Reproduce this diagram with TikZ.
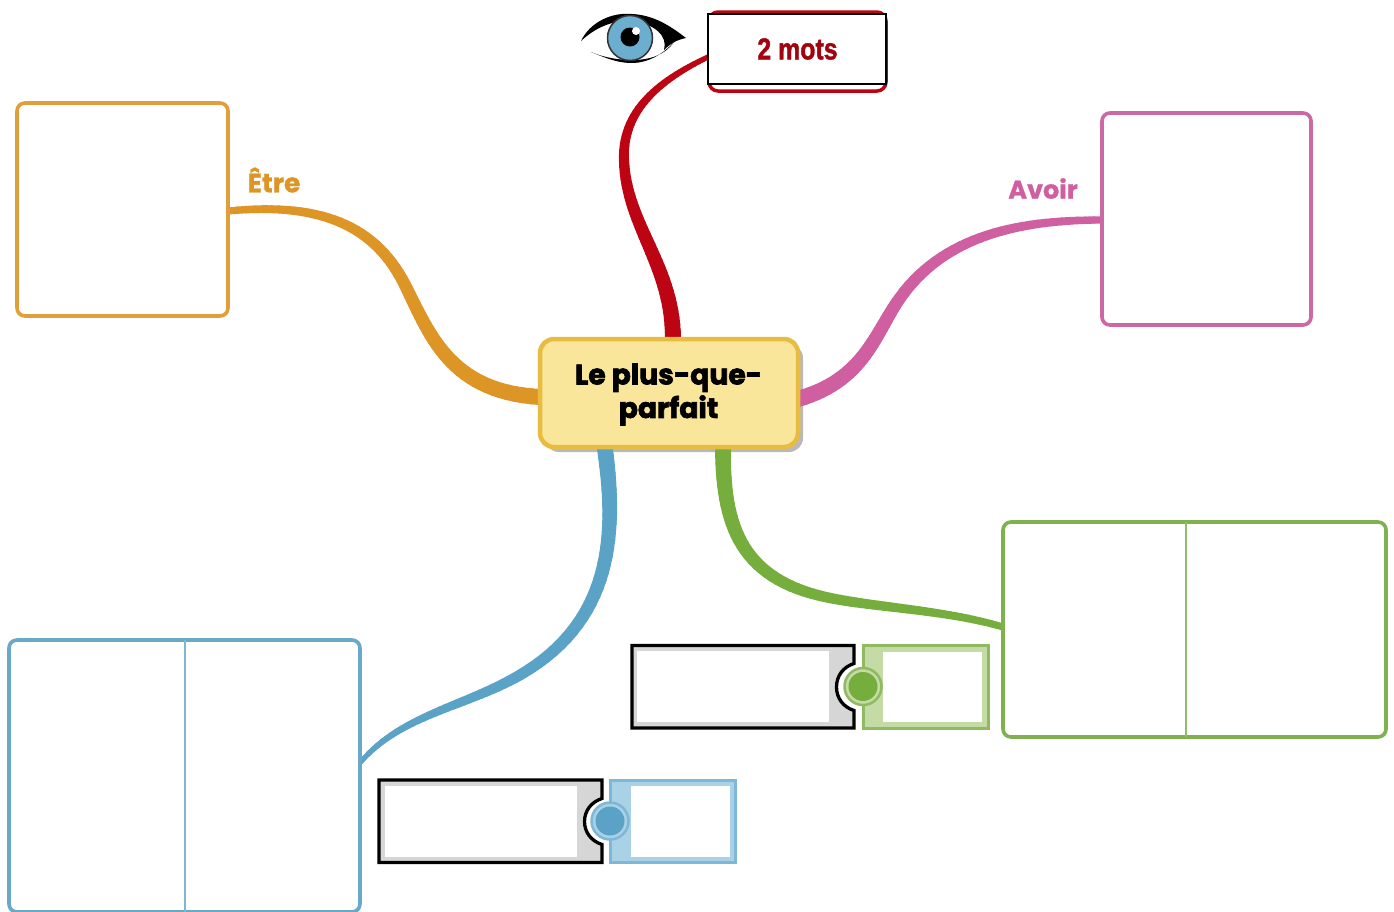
\documentclass[tikz,border=0pt]{standalone}
\usepackage{fontspec}
\usetikzlibrary{calc}
\newfontfamily\popfont[FakeBold=2.4]{Poppins Bold}
\newfontfamily\popbold[FakeBold=1.0]{Poppins Bold}
\newfontfamily\narrowfont[FakeBold=1.6]{Liberation Sans Bold}
\definecolor{orangeB}{HTML}{DD9526}
\definecolor{orangeE}{HTML}{E09F3A}
\definecolor{pinkB}{HTML}{CF5FA0}
\definecolor{pinkE}{HTML}{CC68A4}
\definecolor{redB}{HTML}{BC0412}
\definecolor{blueB}{HTML}{5AA3C6}
\definecolor{blueL}{HTML}{69A9C8}
\definecolor{greenB}{HTML}{75AE3D}
\definecolor{greenL}{HTML}{7FB24E}
\definecolor{yellowF}{HTML}{FAE69B}
\definecolor{yellowB}{HTML}{E8BC40}
\definecolor{greenP}{HTML}{C5DBA6}
\definecolor{greenE}{HTML}{90BA62}
\definecolor{blueP}{HTML}{AAD2E6}
\definecolor{blueE}{HTML}{7FB7D6}
\definecolor{eyeB}{HTML}{6BAED0}
\pgfdeclarelayer{bottom}
\pgfdeclarelayer{ribbon}
\pgfsetlayers{bottom,ribbon,main}
\tikzset{
  x=1pt,y=-1pt,
  mapbox/.style={draw=#1,line width=3.6pt,rounded corners=8pt,fill=white,outer sep=0pt,inner sep=0pt,anchor=north west},
  lbl/.style={text=#1,inner sep=0pt},
  inner/.style={fill=white,draw=none,inner sep=0pt,outer sep=0pt,anchor=north west},
  pieceL/.style={draw=black,line width=3.3pt,fill=gray!32,line join=miter},
  pieceR/.style={line width=3pt,line join=miter}
}
% tapered connector: colour, start width, end width, four Bezier points
\newcommand{\ribbonpart}[7]{%
  \coordinate (r0) at #4; \coordinate (r1) at #5; \coordinate (r2) at #6; \coordinate (r3) at #7;
  \foreach \i in {1,...,30}{%
    \pgfmathsetmacro{\ta}{(\i-1)/30}%
    \pgfmathsetmacro{\tb}{\i/30}%
    \pgfmathsetmacro{\wd}{#2+(#3-#2)*\tb}%
    \pgfmathsetmacro{\aa}{(1-\ta)^3}\pgfmathsetmacro{\ab}{3*\ta*(1-\ta)^2}\pgfmathsetmacro{\ac}{3*\ta*\ta*(1-\ta)}\pgfmathsetmacro{\ad}{\ta^3}%
    \pgfmathsetmacro{\ba}{(1-\tb)^3}\pgfmathsetmacro{\bb}{3*\tb*(1-\tb)^2}\pgfmathsetmacro{\bc}{3*\tb*\tb*(1-\tb)}\pgfmathsetmacro{\bd}{\tb^3}%
    \draw[#1,line width=\wd pt,line cap=round]
      ($\aa*(r0)+\ab*(r1)+\ac*(r2)+\ad*(r3)$) -- ($\ba*(r0)+\bb*(r1)+\bc*(r2)+\bd*(r3)$);
  }%
}
\begin{document}
\begin{tikzpicture}
\useasboundingbox (0,0) rectangle (1394,911);
\begin{pgfonlayer}{bottom}
\fill[white] (0,0) rectangle (1394,911);
\fill[gray!55,rounded corners=14pt] (545,344) rectangle (803,452);
\end{pgfonlayer}

% boxes
\node[mapbox=orangeE,minimum width=211pt,minimum height=213pt] (etre) at (17,103) {};
\node[mapbox=pinkE,minimum width=209pt,minimum height=212pt] (avoir) at (1102,113) {};
\node[mapbox=greenL,minimum width=383pt,minimum height=215pt] (greenbox) at (1003,522) {};
\node[mapbox=blueL,minimum width=351pt,minimum height=272pt] (bluebox) at (9,640) {};
\draw[greenL!85!white,line width=1.5pt] (greenbox.north) ++(-8.5,0) coordinate (gt) -- (gt |- greenbox.south);
\draw[blueL!85!white,line width=1.5pt] (bluebox.north) ++(0.5,0) coordinate (bt) -- (bt |- bluebox.south);

% title box
\node[draw=redB,line width=3.5pt,rounded corners=9pt,minimum width=177pt,minimum height=79pt,outer sep=0pt,anchor=north west] (redback) at (709,12) {};
\node[draw=black,line width=2pt,fill=white,minimum width=178pt,minimum height=70pt,outer sep=0pt,inner sep=0pt,anchor=north west] (mots) at (708,14)
  {\hspace{1pt}\scalebox{0.83}[1]{\narrowfont\fontsize{30}{30}\selectfont\textcolor{redB!85!black}{2 mots}}};

% centre
\node[draw=yellowB,fill=yellowF,line width=4.5pt,rounded corners=14pt,minimum width=258pt,minimum height=108pt,outer sep=0pt,inner sep=0pt,align=center,anchor=north west] (centre) at (540,339) {};
\node[inner sep=0pt,align=center,font=\popfont\fontsize{28.2}{33.5}\selectfont] (centretext) at (668.5,394.5) {Le plus-que-\\parfait};

% connectors
\begin{pgfonlayer}{ribbon}
\ribbonpart{orangeB}{7}{12}{(etre.east |- 0,211)}{(320,202)}{(375,225)}{(405,285)}
\ribbonpart{orangeB}{12}{16}{(405,285)}{(430,335)}{(450,392)}{(centre.west |- 0,397)}
\ribbonpart{pinkB}{7}{12}{(avoir.west |- 0,220)}{(1020,220)}{(945,235)}{(900,298)}
\ribbonpart{pinkB}{12}{16}{(900,298)}{(875,333)}{(865,380)}{(centre.east |- 0,399)}
\ribbonpart{redB}{5}{10}{(mots.west |- 0,57)}{(660,80)}{(622,110)}{(624,160)}
\ribbonpart{redB}{10}{16}{(624,160)}{(626,225)}{(673,265)}{([xshift=4pt]centre.north)}
\ribbonpart{blueB}{16}{11}{(605,449)}{(616,530)}{(615,620)}{(520,675)}
\ribbonpart{blueB}{11}{5}{(520,675)}{(465,707)}{(400,715)}{(bluebox.east |- 0,763)}
\ribbonpart{greenB}{16}{10.5}{(723,449)}{(723,525)}{(740,580)}{(830,598)}
\ribbonpart{greenB}{10.5}{7}{(830,598)}{(880,608)}{(945,610)}{(greenbox.west |- 0,627)}
\end{pgfonlayer}

% eye
\fill[black] (581,41) .. controls (590,22) and (612,12) .. (632,14)
  .. controls (652,15) and (668,24) .. (686,38)
  .. controls (676,40) and (670,44) .. (664,50)
  .. controls (668,36) and (655,24) .. (632,21)
  .. controls (612,20) and (595,28) .. (581,41) -- cycle;
\fill[black] (591,52) .. controls (610,60) and (620,63) .. (632,63)
  .. controls (650,63) and (665,52) .. (674,42)
  .. controls (665,55) and (650,60) .. (632,60)
  .. controls (620,60) and (605,58) .. (591,52) -- cycle;
\node[circle,fill=eyeB,draw=black!80,line width=1.5pt,minimum size=45pt,inner sep=0pt] (iris) at (630,38) {};
\node[circle,fill=black,minimum size=19pt,inner sep=0pt] (pupil) at (630,37) {};
\node[circle,fill=white,minimum size=8pt,inner sep=0pt] (glint) at (636,31) {};

% puzzle green
\draw[pieceL] (632,645.5) -- (854,645.5) -- (854,663.5) .. controls (843,667) and (836.5,676) .. (836.5,687)
  .. controls (836.5,698) and (843,707) .. (854,710.5) -- (854,728) -- (632,728) -- cycle;
\node[inner,minimum width=192pt,minimum height=71pt] (wl1) at (637,651) {};
\draw[pieceR,draw=greenE,fill=greenP] (863,645.5) rectangle (988,728);
\node[inner,minimum width=99pt,minimum height=70pt] (wr1) at (883,652) {};
\node[circle,fill=greenP,draw=greenE,line width=2.5pt,minimum size=37pt,inner sep=0pt] (k1r) at (863,686.5) {};
\node[circle,fill=greenB,minimum size=29pt,inner sep=0pt] (k1) at (863,686.5) {};

% puzzle blue
\draw[pieceL] (379,780) -- (602,780) -- (602,798.5) .. controls (591,802) and (584.5,811) .. (584.5,821.5)
  .. controls (584.5,832) and (591,841) .. (602,844.5) -- (602,862.5) -- (379,862.5) -- cycle;
\node[inner,minimum width=192pt,minimum height=71pt] (wl2) at (385,786) {};
\draw[pieceR,draw=blueE,fill=blueP] (610,780) rectangle (735.5,862.5);
\node[inner,minimum width=99pt,minimum height=71pt] (wr2) at (631,786) {};
\node[circle,fill=blueP,draw=blueE,line width=2.5pt,minimum size=37pt,inner sep=0pt] (k2r) at (610,821) {};
\node[circle,fill=blueB,minimum size=29pt,inner sep=0pt] (k2) at (610,821) {};

% labels
\node[lbl=orangeB,font=\popbold\fontsize{26.5}{26.5}\selectfont] (tetre) at (274,180) {Être};
\node[lbl=pinkB,font=\popbold\fontsize{25.5}{25.5}\selectfont] (tavoir) at (1043,188.5) {Avoir};
\end{tikzpicture}
\end{document}
